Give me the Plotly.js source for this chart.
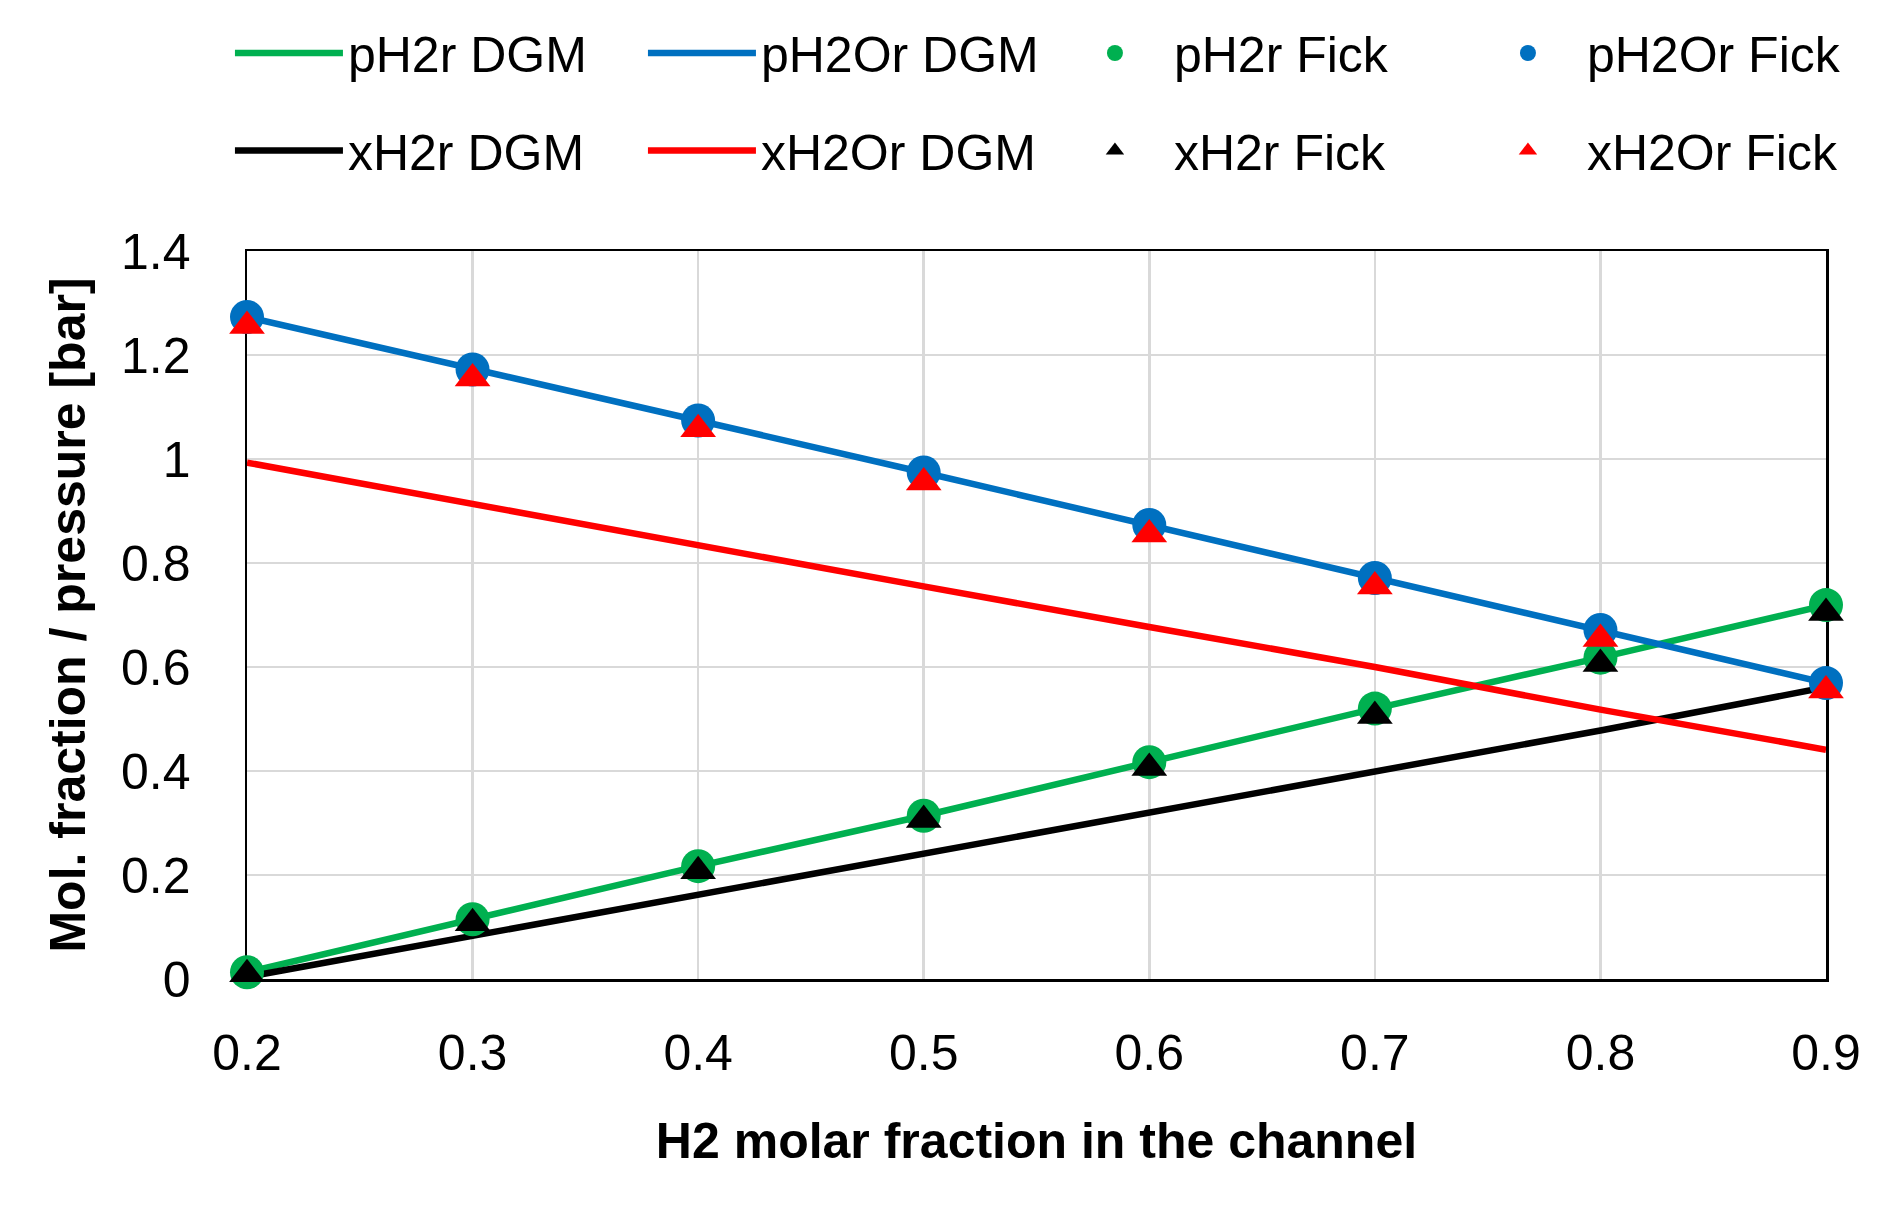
<!DOCTYPE html>
<html>
<head>
<meta charset="utf-8">
<script src="https://cdn.plot.ly/plotly-3.0.1.min.js"></script>
<style>
  html, body { margin: 0; padding: 0; background: #fff; }
  #chart { width: 1899px; height: 1205px; }
</style>
</head>
<body>
<div id="chart"></div>
<script>
// H2 molar fraction in the channel
const xH2 = [0.2, 0.3, 0.4, 0.5, 0.6, 0.7, 0.8, 0.9];

// DGM model (lines)
const pH2rDGM = [0.013, 0.115, 0.217, 0.314, 0.417, 0.52, 0.618, 0.719];
const pH2OrDGM = [1.273, 1.172, 1.074, 0.974, 0.873, 0.771, 0.671, 0.569];
const xH2rDGM = [0.004, 0.083, 0.162, 0.243, 0.321, 0.40, 0.478, 0.561];
const xH2OrDGM = [0.993, 0.913, 0.834, 0.755, 0.677, 0.60, 0.518, 0.441];

// Fick model (markers)
const pH2rFick = [0.013, 0.115, 0.217, 0.314, 0.417, 0.52, 0.618, 0.719];
const pH2OrFick = [1.273, 1.172, 1.074, 0.974, 0.873, 0.771, 0.671, 0.569];
const xH2rFick = [0.009, 0.107, 0.207, 0.306, 0.406, 0.506, 0.606, 0.704];
const xH2OrFick = [1.256, 1.155, 1.057, 0.955, 0.855, 0.755, 0.654, 0.555];

const COLORS = { green: '#00b050', blue: '#0070c0', black: '#000000', red: '#ff0000' };
const FONT = 'Liberation Sans, Arial, sans-serif';

function lineTrace(y, name, color, legend, rank) {
  return {
    x: xH2, y, name, mode: 'lines',
    line: { color, width: 6.5 },
    legend, legendrank: rank,
    hoverinfo: 'x+y+name'
  };
}

function markerTrace(y, name, color, symbol, size, legend, rank) {
  return {
    x: xH2, y, name, mode: 'markers',
    marker: { color, symbol, size, line: { width: 0 } },
    cliponaxis: false,
    legend, legendrank: rank,
    hoverinfo: 'x+y+name'
  };
}

// draw order: lines first, then circles, then triangles on top
const traces = [
  lineTrace(pH2rDGM, 'pH2r DGM', COLORS.green, 'legend', 1),
  lineTrace(pH2OrDGM, 'pH2Or DGM', COLORS.blue, 'legend', 2),
  lineTrace(xH2rDGM, 'xH2r DGM', COLORS.black, 'legend2', 1),
  lineTrace(xH2OrDGM, 'xH2Or DGM', COLORS.red, 'legend2', 2),
  markerTrace(pH2rFick, 'pH2r Fick', COLORS.green, 'circle', 34, 'legend', 3),
  markerTrace(pH2OrFick, 'pH2Or Fick', COLORS.blue, 'circle', 34, 'legend', 4),
  markerTrace(xH2rFick, 'xH2r Fick', COLORS.black, 'triangle-up', 31, 'legend2', 3),
  markerTrace(xH2OrFick, 'xH2Or Fick', COLORS.red, 'triangle-up', 31, 'legend2', 4)
];

function legendRow(y) {
  return {
    orientation: 'h',
    x: -0.0108, xanchor: 'left',
    y, yanchor: 'middle',
    entrywidth: 290, entrywidthmode: 'pixels',
    itemwidth: 108,
    traceorder: 'normal',
    bgcolor: 'rgba(0,0,0,0)',
    font: { family: FONT, size: 50, color: '#000' }
  };
}

const axisBase = {
  showgrid: true,
  gridcolor: '#d9d9d9',
  gridwidth: 2.5,
  showline: true,
  linecolor: '#000',
  linewidth: 2.5,
  mirror: true,
  zeroline: false,
  ticks: '',
  layer: 'below traces',
  tickfont: { family: FONT, size: 50, color: '#000' }
};

const layout = {
  width: 1899,
  height: 1205,
  margin: { l: 247, r: 73, t: 251, b: 226, autoexpand: false },
  paper_bgcolor: '#fff',
  plot_bgcolor: '#fff',
  font: { family: FONT, color: '#000' },
  showlegend: true,
  legend: legendRow(1.272),
  legend2: legendRow(1.138),
  xaxis: {
    ...axisBase,
    range: [0.2, 0.9],
    tick0: 0.2,
    dtick: 0.1,
    ticklabelstandoff: 28,
    title: {
      text: 'H2 molar fraction in the channel',
      font: { family: FONT, size: 50, weight: 700, color: '#000' },
      standoff: 44
    }
  },
  yaxis: {
    ...axisBase,
    range: [0, 1.4],
    tick0: 0,
    dtick: 0.2,
    ticklabelstandoff: 44,
    title: {
      text: 'Mol. fraction / pressure [bar]',
      font: { family: FONT, size: 50, weight: 700, color: '#000' },
      standoff: 20
    }
  }
};

Plotly.newPlot('chart', traces, layout, { displayModeBar: false, staticPlot: true });
</script>
</body>
</html>
